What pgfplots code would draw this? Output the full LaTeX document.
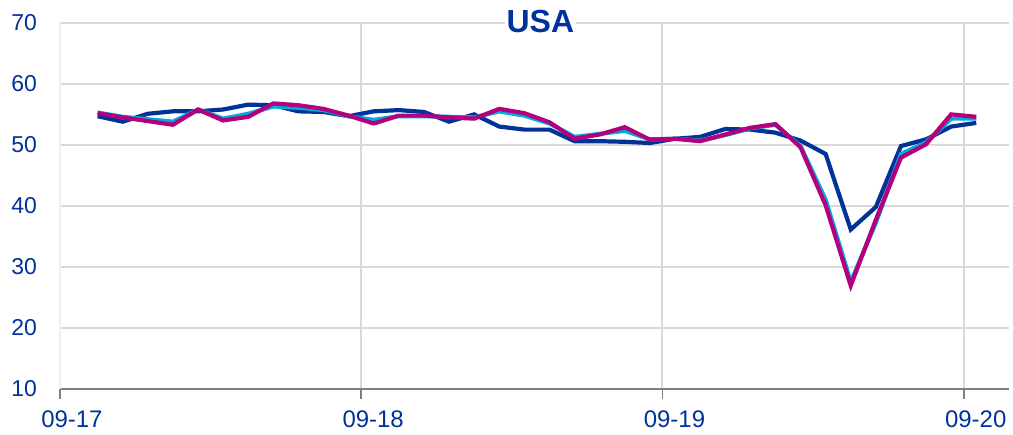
\documentclass[border=0pt]{standalone}
\usepackage{pgfplots}
\pgfplotsset{compat=1.18}
\usepackage{fontspec}
\setmainfont{Liberation Sans}
\definecolor{navy}{RGB}{0,51,153}
\definecolor{cyanl}{RGB}{0,172,222}
\definecolor{mag}{RGB}{180,0,125}
\definecolor{gridc}{RGB}{217,217,217}
\definecolor{axc}{RGB}{128,128,128}

% x = months after Sep 2017 (mid-month points)
\pgfplotstableread{
x    a     b     c
1.5  54.7  55.3  55.2
2.5  53.8  54.6  54.5
3.5  55.1  54.2  53.9
4.5  55.5  53.8  53.3
5.5  55.5  55.8  55.8
6.5  55.8  54.3  54.0
7.5  56.6  55.1  54.6
8.5  56.5  56.3  56.8
9.5  55.5  56.1  56.5
10.5 55.4  55.7  55.9
11.5 54.7  54.7  54.8
12.5 55.5  54.1  53.5
13.5 55.7  54.7  54.8
14.5 55.4  54.7  54.8
15.5 53.8  54.6  54.5
16.5 55.0  54.5  54.3
17.5 53.0  55.5  55.9
18.5 52.5  54.8  55.2
19.5 52.5  53.5  53.7
20.5 50.6  51.3  51.0
21.5 50.6  51.8  51.7
22.5 50.5  52.3  52.9
23.5 50.3  50.9  50.85
24.5 51.0  51.0  51.0
25.5 51.3  50.7  50.6
26.5 52.6  51.6  51.7
27.5 52.5  52.7  52.8
28.5 52.0  53.3  53.4
29.5 50.7  49.8  49.6
30.5 48.5  41.0  40.1
31.5 36.1  27.5  26.9
32.5 39.8  37.2  37.7
33.5 49.8  48.5  47.9
34.5 50.9  50.4  50.1
35.5 53.0  54.3  55.0
36.5 53.6  54.3  54.6
}\usa

\begin{document}
\begin{tikzpicture}
\begin{axis}[
    name=ax,
    scale only axis,
    width=475pt, height=183pt,
    xmin=0, xmax=37.8,
    ymin=10, ymax=70,
    xtick={0,12,24,36},
    xticklabels={09-17,09-18,09-19,09-20},
    ytick={10,20,30,40,50,60,70},
    axis lines*=left,
    x axis line style={draw=axc, line width=1pt},
    y axis line style={draw=gridc!40, line width=0.8pt},
    grid=major,
    major grid style={draw=gridc, line width=1pt},
    tick align=outside,
    major tick length=5pt,
    xtick style={draw=axc, line width=0.8pt},
    ytick style={draw=none},
    ticklabel style={text=navy},
    yticklabel style={font=\fontsize{11.5}{13}\selectfont, xshift=-3pt},
    xticklabel style={font=\fontsize{12}{14}\selectfont, xshift=6pt, yshift=-2.5pt},
    /pgf/number format/assume math mode=true,
    clip=false,
]
\addplot[navy, line width=2.1pt] table[x=x, y=a] {\usa};
\addplot[cyanl, line width=2.1pt] table[x=x, y=b] {\usa};
\addplot[mag, line width=2.1pt] table[x=x, y=c] {\usa};
\end{axis}
\node[fill=white, inner sep=1pt, text=navy, font=\fontsize{16}{18}\selectfont\bfseries] at ([xshift=3pt,yshift=0.5pt]ax.north) {USA};
\path ([shift={(-30pt,-21.5pt)}]ax.south west) rectangle ([shift={(1.5pt,11.5pt)}]ax.north east);
\end{tikzpicture}
\end{document}
